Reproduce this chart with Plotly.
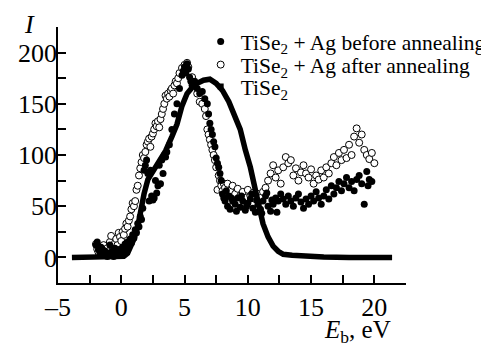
import plotly.graph_objects as go

# TiSe2 + Ag before annealing (filled circles)
before_E = [-2.0, -1.9, -1.8, -1.7, -1.6, -1.5, -1.4, -1.3, -1.2, -1.1, -1.0, -0.9, -0.8, -0.7, -0.6,
            -0.5, -0.4, -0.3, -0.2, -0.1, 0.0, 0.1, 0.2, 0.3, 0.4, 0.5, 0.6, 0.7, 0.8, 0.9, 1.0,
            1.1, 1.2, 1.3, 1.4, 1.5, 1.6, 1.7, 1.8, 1.9, 2.0, 2.1, 2.2, 2.3, 2.4, 2.5, 2.6, 2.7,
            2.8, 2.9, 3.0, 3.1, 3.2, 3.3, 3.4, 3.5, 3.6, 3.8, 4.0, 4.2, 4.4, 4.6, 4.8, 4.9, 5.0,
            5.1, 5.2, 5.3, 5.4, 5.5, 5.6, 5.8, 6.0, 6.2, 6.4, 6.6, 6.8, 6.9, 7.0, 7.1, 7.2, 7.3,
            7.4, 7.5, 7.6, 7.7, 7.8, 7.9, 8.0, 8.1, 8.2, 8.3, 8.4, 8.5, 8.6, 8.7, 8.8, 9.0, 9.1,
            9.2, 9.4, 9.5, 9.6, 9.8, 9.9, 10.0, 10.2, 10.3, 10.4, 10.6, 10.7, 10.8, 11.0, 11.1,
            11.2, 11.4, 11.5, 11.6, 11.8, 11.9, 12.0, 12.2, 12.3, 12.4, 12.6, 12.8, 13.0, 13.2,
            13.4, 13.6, 13.8, 14.0, 14.2, 14.4, 14.6, 14.8, 15.0, 15.2, 15.4, 15.6, 15.8, 16.0,
            16.2, 16.4, 16.6, 16.8, 17.0, 17.2, 17.4, 17.6, 17.8, 18.0, 18.2, 18.4, 18.6, 18.8,
            19.0, 19.2, 19.4, 19.5, 19.6, 19.8, 20.0]
before_I = [12, 15, 8, 5, 10, 3, 7, 2, 5, 1, 4, 12, 3, 6, 1,
            9, 2, 5, 3, 8, 4, 10, 6, 13, 8, 15, 11, 18, 14, 22, 19,
            27, 24, 33, 30, 40, 37, 48, 85, 90, 95, 82, 55, 85, 60, 56, 58, 75,
            63, 70, 90, 72, 95, 82, 100, 98, 103, 110, 125, 140, 150, 165, 178, 182, 186,
            180, 189, 184, 176, 172, 168, 172, 165, 160, 162, 155, 150, 140, 131, 125, 120, 113,
            108, 97, 92, 88, 82, 75, 62, 58, 55, 65, 50, 60, 47, 58, 55, 52, 45,
            58, 49, 60, 55, 46, 50, 53, 57, 62, 48, 44, 56, 52, 47, 43,
            55, 60, 63, 50, 45, 56, 52, 58, 44, 55, 62, 57, 52,
            60, 55, 50, 58, 62, 54, 48, 57, 52, 60, 55, 64, 58, 52,
            60, 66, 57, 70, 62, 68, 74, 65, 72, 78, 68, 74, 65, 76,
            80, 72, 52, 84, 70, 76, 74]

# TiSe2 + Ag after annealing (open circles)
after_E = [-2.0, -1.9, -1.8, -1.7, -1.6, -1.5, -1.4, -1.3, -1.2, -1.1, -1.0, -0.9, -0.8, -0.7, -0.6,
           -0.5, -0.4, -0.3, -0.2, -0.1, 0.0, 0.1, 0.2, 0.3, 0.4, 0.5, 0.6, 0.7, 0.8, 0.9, 1.0,
           1.1, 1.2, 1.3, 1.4, 1.5, 1.6, 1.7, 1.8, 1.9, 2.0, 2.1, 2.2, 2.3, 2.4, 2.5, 2.6, 2.7,
           2.8, 2.9, 3.0, 3.1, 3.2, 3.3, 3.4, 3.5, 3.6, 3.7, 3.8, 3.9, 4.0, 4.1, 4.2, 4.3, 4.4,
           4.5, 4.6, 4.8, 5.0, 5.2, 5.3, 5.6, 5.8, 6.0, 6.2, 6.4, 6.6, 6.7, 6.8, 6.9, 7.0, 7.1,
           7.2, 7.3, 7.4, 7.5, 7.6, 7.7, 7.8, 7.9, 8.0, 8.1, 8.2, 8.4, 8.6, 8.8, 9.0, 9.2, 9.4,
           9.6, 9.8, 10.0, 10.2, 10.4, 10.6, 10.8, 11.0, 11.2, 11.4, 11.6, 11.8, 12.0, 12.2,
           12.4, 12.6, 12.8, 13.0, 13.2, 13.4, 13.6, 13.8, 14.0, 14.2, 14.4, 14.6, 14.8, 15.0,
           15.2, 15.4, 15.6, 15.8, 16.0, 16.2, 16.4, 16.6, 16.8, 17.0, 17.2, 17.4, 17.6, 17.8,
           18.0, 18.2, 18.4, 18.6, 18.8, 19.0, 19.2, 19.4, 19.6, 19.8, 20.0]
after_I = [13, 8, 5, 10, 4, 7, 12, 6, 3, 9, 6, 15, 21, 10, 7,
           14, 18, 12, 24, 20, 16, 25, 22, 28, 33, 30, 36, 40, 47, 53, 50,
           55, 66, 70, 80, 87, 93, 100, 97, 103, 110, 113, 116, 108, 118, 121, 125, 131,
           128, 133, 127, 135, 140, 145, 150, 158, 155, 160, 157, 163, 165, 160, 168, 172, 170,
           175, 180, 185, 188, 190, 186, 176, 170, 160, 152, 150, 145, 138, 125, 120, 115, 110,
           105, 100, 95, 88, 66, 80, 75, 70, 65, 72, 68, 72, 65, 70, 62, 67, 60,
           64, 58, 66, 60, 63, 57, 62, 58, 64, 68, 75, 82, 90, 78,
           85, 72, 88, 98, 92, 95, 80, 87, 75, 83, 90, 82, 78, 86,
           72, 80, 76, 85, 78, 88, 82, 92, 98, 90, 102, 95, 105, 97,
           110, 100, 118, 126, 112, 120, 105, 100, 96, 102, 92]

# TiSe2 (squares, forming a dense curve)
tise2_E = [-3.9, -3.0, -2.0, -1.0, 0.0, 0.2, 0.5, 0.8, 1.0, 1.3, 1.5, 1.8, 2.1, 2.5, 3.0, 3.5,
           4.0, 4.4, 4.8, 5.2, 5.6, 6.0, 6.5, 7.0, 7.5, 8.0, 8.5, 9.0, 9.4, 9.8, 10.2, 10.7,
           11.2, 11.6, 12.0, 12.4, 12.8, 13.5, 14.5, 16.0, 18.0, 20.0, 21.4]
tise2_I = [0, 0, 0, 0, 0, 1, 4, 12, 18, 30, 45, 62, 76, 84, 92, 104,
           118, 130, 148, 160, 166, 170, 173, 174, 170, 163, 152, 138, 125, 105, 88, 60,
           33, 20, 11, 6, 3, 2, 1, 0.5, 0, 0, 0]

x_major = [-5, 0, 5, 10, 15, 20]
x_labels = ["\u20135", "0", "5", "10", "15", "20"]
y_major = [0, 50, 100, 150, 200]

FONT = "Liberation Serif, Times New Roman, DejaVu Serif, serif"

fig = go.Figure()
fig.add_trace(go.Scatter(
    x=after_E, y=after_I, mode="markers", name="TiSe<sub>2</sub> + Ag after annealing",
    legend="legend2",
    marker=dict(symbol="circle", size=7, color="white", line=dict(color="black", width=1))))
fig.add_trace(go.Scatter(
    x=before_E, y=before_I, mode="markers", name="TiSe<sub>2</sub> + Ag before annealing",
    legend="legend",
    marker=dict(symbol="circle", size=7, color="black", line=dict(width=0))))
fig.add_trace(go.Scatter(
    x=tise2_E, y=tise2_I, mode="lines", showlegend=False,
    line=dict(color="black", width=5.5)))
fig.add_trace(go.Scatter(
    x=[None], y=[None], mode="markers", name="TiSe<sub>2</sub>", legend="legend3",
    marker=dict(symbol="square", size=6, color="black")))

axis_common = dict(
    showgrid=False, zeroline=False, showline=True, linecolor="black", linewidth=1.5,
    ticks="inside", ticklen=8, tickwidth=1.5, tickcolor="black",
    tickfont=dict(family=FONT, size=26, color="black"),
)
fig.update_xaxes(range=[-5, 22.5], tickmode="array", tickvals=x_major, ticktext=x_labels,
                 minor=dict(tickmode="array", tickvals=[-2.5, 2.5, 7.5, 12.5, 17.5, 22.5],
                            ticks="inside", ticklen=8, tickwidth=1.5, tickcolor="black"),
                 **axis_common)
fig.update_yaxes(range=[-25, 225], tickmode="array", tickvals=y_major,
                 ticklabelstandoff=-6,
                 minor=dict(tickmode="array", tickvals=[25, 75, 125, 175],
                            ticks="inside", ticklen=8, tickwidth=1.5, tickcolor="black"),
                 **axis_common)

leg_common = dict(x=0.41, xanchor="left", yanchor="middle",
                  bgcolor="rgba(0,0,0,0)", borderwidth=0,
                  font=dict(family=FONT, size=21.5, color="black"), itemwidth=30)

fig.update_layout(
    width=489, height=346,
    margin=dict(l=50, r=91, t=19, b=71, autoexpand=False),
    paper_bgcolor="white", plot_bgcolor="white",
    font=dict(family=FONT, color="black"),
    legend=dict(y=0.943, **leg_common),
    legend2=dict(y=0.853, **leg_common),
    legend3=dict(y=0.767, **leg_common),
    annotations=[
        dict(text="<i>I</i>", xref="paper", yref="paper", x=-0.083, y=1.008,
             xanchor="center", yanchor="middle", showarrow=False,
             font=dict(family=FONT, size=26, color="black")),
        dict(text="<i>E</i><sub>b</sub>, eV", xref="paper", yref="paper", x=0.862, y=-0.19,
             xanchor="center", yanchor="middle", showarrow=False,
             font=dict(family=FONT, size=25, color="black")),
    ],
)

fig.write_html("out.html")
